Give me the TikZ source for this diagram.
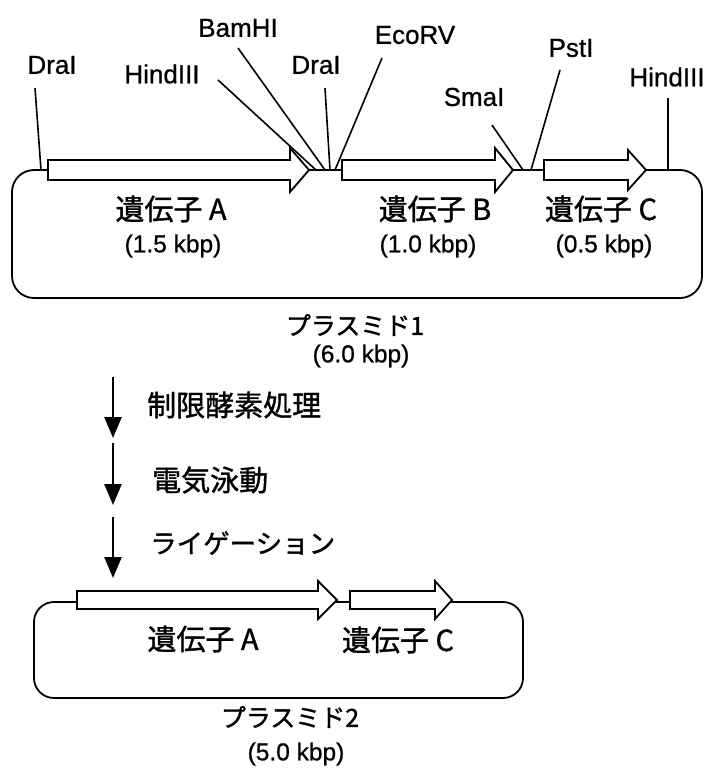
\documentclass[tikz,border=0pt]{standalone}
\usepackage{fontspec}
\setmainfont{Liberation Sans}[FakeBold=0.8,AutoFakeBold=0.8]
\newfontfamily\jp{Noto Sans CJK JP}[FakeBold=1.2,AutoFakeBold=1.2]
\usetikzlibrary{arrows.meta}
\tikzset{
  enz/.style={inner sep=0pt, font=\bfseries\fontsize{26}{26}\selectfont},
  gname/.style={inner sep=0pt, font=\jp\bfseries\fontsize{29}{29}\selectfont},
  kbp/.style={inner sep=0pt, font=\bfseries\fontsize{24.5}{24.5}\selectfont},
  pname/.style={inner sep=0pt, font=\jp\bfseries\fontsize{25}{25}\selectfont},
  stepname/.style={inner sep=0pt, anchor=west, font=\jp\bfseries\fontsize{29}{29}\selectfont},
  sitel/.style={line width=1.6pt},
  box/.style={line width=1.8pt, rounded corners=22pt},
  gene/.style={line width=1.8pt, fill=white, line join=miter},
  flow/.style={line width=2.6pt, -{Triangle[width=17pt,length=21pt]}}
}
\begin{document}
\begin{tikzpicture}[x=1pt,y=-1pt]
\useasboundingbox (0,0) rectangle (706,772);

% ---------- plasmid 1 ----------
\draw[box] (12,170) rectangle (702,298);

% gene arrows
\draw[gene] (48,160) -- (290,160) -- (290,148) -- (309,170) -- (290,192) -- (290,180) -- (48,180) -- cycle;
\draw[gene] (342,160) -- (495,160) -- (495,148) -- (513,170) -- (495,192) -- (495,180) -- (342,180) -- cycle;
\draw[gene] (544,160) -- (628,160) -- (628,150) -- (646,170) -- (628,190) -- (628,180) -- (544,180) -- cycle;

% enzyme labels
\node[enz] (dra1) at (52,65) {DraI};
\node[enz] (hind1) at (162,74) {HindIII};
\node[enz] (bam) at (238,28) {BamHI};
\node[enz] (dra2) at (316,65) {DraI};
\node[enz] (eco) at (415,35) {EcoRV};
\node[enz] (sma) at (474,97) {SmaI};
\node[enz] (pst) at (571,48) {PstI};
\node[enz] (hind2) at (667,77) {HindIII};

% site line ends
\coordinate (dra1a) at (35,88);   \coordinate (dra1b) at (41,170);
\coordinate (hind1a) at (218,80); \coordinate (hind1b) at (316,170);
\coordinate (bama) at (238,48);   \coordinate (bamb) at (325,170);
\coordinate (dra2a) at (325,88);  \coordinate (dra2b) at (330,170);
\coordinate (ecoa) at (382,58);   \coordinate (ecob) at (335,170);
\coordinate (smaa) at (492,125);  \coordinate (smab) at (523,170);
\coordinate (psta) at (560,70);   \coordinate (pstb) at (531,170);
\coordinate (hind2a) at (668,98); \coordinate (hind2b) at (668,170);

\draw[sitel] (dra1a) -- (dra1b);
\draw[sitel] (hind1a) -- (hind1b);
\draw[sitel] (bama) -- (bamb);
\draw[sitel] (dra2a) -- (dra2b);
\draw[sitel] (ecoa) -- (ecob);
\draw[sitel] (smaa) -- (smab);
\draw[sitel] (psta) -- (pstb);
\draw[sitel] (hind2a) -- (hind2b);

% gene names
\node[gname] (ga) at (171,209) {遺伝子 A};
\node[kbp] (ka) at (173,246) {(1.5 kbp)};
\node[gname] (gb) at (435,209) {遺伝子 B};
\node[kbp] (kb) at (428,246) {(1.0 kbp)};
\node[gname] (gc) at (601,209) {遺伝子 C};
\node[kbp] (kc) at (604,246) {(0.5 kbp)};

\node[pname] (p1) at (355,325) {プラスミド1};
\node[kbp] (p1k) at (361,356) {(6.0 kbp)};

% ---------- steps ----------
\coordinate (s1a) at (113,377); \coordinate (s1b) at (113,438);
\coordinate (s2a) at (113,443); \coordinate (s2b) at (113,505);
\coordinate (s3a) at (113,517); \coordinate (s3b) at (113,578);
\draw[flow] (s1a) -- (s1b);
\draw[flow] (s2a) -- (s2b);
\draw[flow] (s3a) -- (s3b);
\node[stepname] (t1) at (147,405) {制限酵素処理};
\node[stepname] (t2) at (152,480) {電気泳動};
\node[stepname, font=\jp\bfseries\fontsize{26.5}{26.5}\selectfont] (t3) at (150,543) {ライゲーション};

% ---------- plasmid 2 ----------
\draw[box, rounded corners=20pt] (34,602) rectangle (523,698);
\draw[gene] (77,591) -- (318,591) -- (318,581) -- (337,600) -- (318,619) -- (318,609) -- (77,609) -- cycle;
\draw[gene] (350,591) -- (435,591) -- (435,581) -- (452,600) -- (435,619) -- (435,609) -- (350,609) -- cycle;

\node[gname] (ga2) at (203,639) {遺伝子 A};
\node[gname] (gc2) at (398,640) {遺伝子 C};
\node[pname] (p2) at (290,717) {プラスミド2};
\node[kbp] (p2k) at (296,754) {(5.0 kbp)};
\end{tikzpicture}
\end{document}
